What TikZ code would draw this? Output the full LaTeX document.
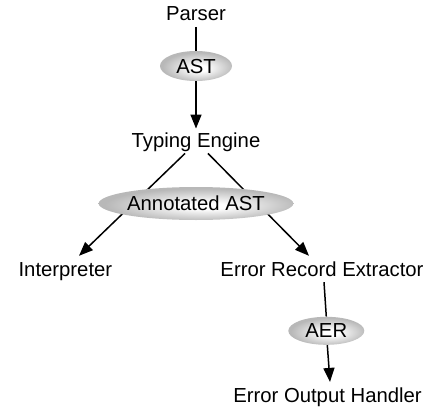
\documentclass[tikz,border=0pt]{standalone}
\usepackage{fontspec}
\setmainfont{Liberation Sans}
\usetikzlibrary{arrows.meta,shapes.geometric,backgrounds}

% soft grey blob with a pale centre, used for the data ellipses
\pgfdeclareradialshading{blobshade}{\pgfpoint{3bp}{-4bp}}{%
  color(0bp)=(white); color(5bp)=(white); color(25bp)=(black!28); color(50bp)=(black!28)}

\begin{document}
\begin{tikzpicture}[x=1pt,y=-1pt,
  lbl/.style={font=\fontsize{20.3}{24}\selectfont, text height=14.5pt, text depth=4pt, inner sep=2pt},
  blob/.style={ellipse, shading=blobshade, inner sep=0pt,
    font=\fontsize{20.3}{24}\selectfont, text height=14.3pt, text depth=0pt},
  link/.style={line width=1.5pt},
  flow/.style={link, -{Triangle[length=14pt,width=11pt]}}]
\useasboundingbox (0,0) rectangle (429,407);

% stages
\node[lbl] (parser) at (196,15.5) {Parser};
\node[lbl] (typing) at (196,142) {Typing Engine};
\node[lbl] (interp) at (65.4,270.75) {Interpreter};
\node[lbl] (ere)    at (322,270.75) {Error Record Extractor};
\node[lbl] (eoh)    at (327.5,397.35) {Error Output Handler};

% data passed between stages
\node[blob, minimum width=72pt, minimum height=30pt] (ast) at (196,66) {AST};
\node[blob, minimum width=194pt, minimum height=33pt] (annot) at (196,203.5) {Annotated AST};
\node[blob, minimum width=76pt, minimum height=28pt] (aer) at (326.3,330.8) {AER};

% connectors, kept behind the ellipses
\begin{scope}[on background layer]
  \draw[link] (parser) -- (ast);
  \draw[flow] (ast) -- ([yshift=2pt]typing.north);
  \draw[flow] ([xshift=-11pt]typing.south) -- ([xshift=13.6pt,yshift=3.5pt]interp.north);
  \draw[flow] ([xshift=12pt]typing.south) -- ([xshift=-13pt,yshift=3.5pt]ere.north);
  \draw[link] ([xshift=2pt]ere.south) -- (aer.north);
  \draw[flow] ([xshift=1pt]aer.south) -- ([xshift=2.5pt,yshift=4pt]eoh.north);
\end{scope}
\end{tikzpicture}
\end{document}
